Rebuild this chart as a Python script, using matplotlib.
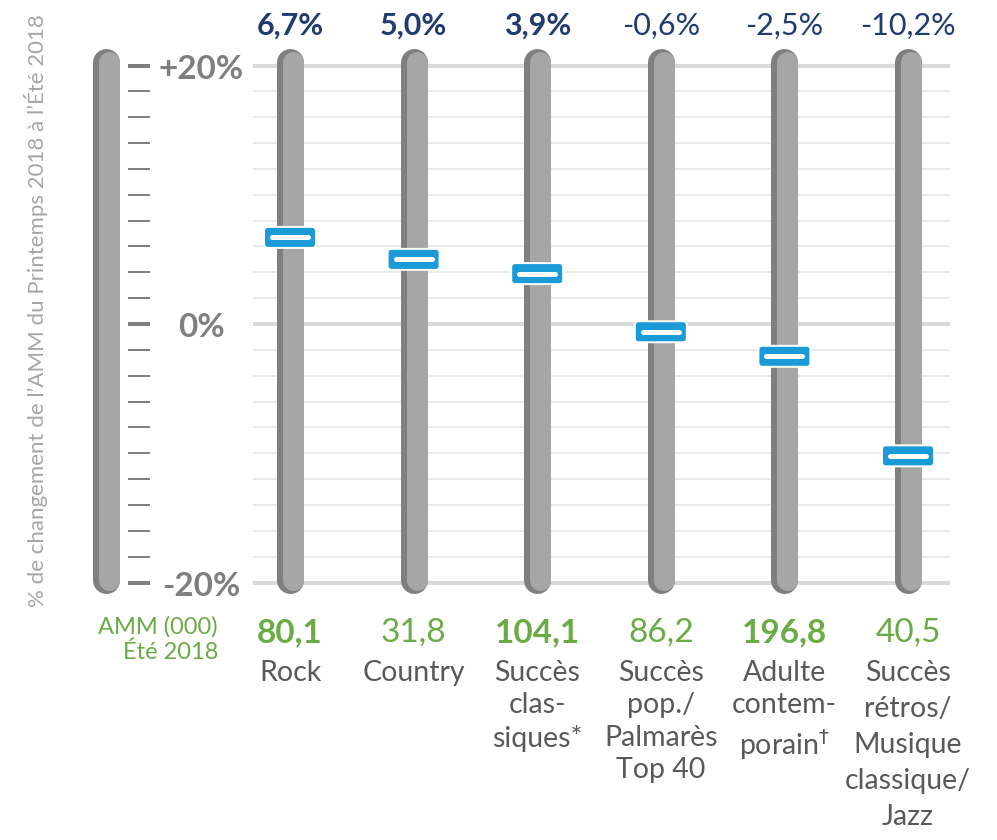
import matplotlib.pyplot as plt
import matplotlib.patches as mpatches
import numpy as np

# chart data
categories = ['Rock', 'Country', 'Succès\nclas-\nsiques*', 'Succès\npop./\nPalmarès\nTop 40',
              'Adulte\ncontem-\nporain$^{\\dagger}$', 'Succès\nrétros/\nMusique\nclassique/\nJazz']
change_pct = [6.7, 5.0, 3.9, -0.6, -2.5, -10.2]
change_labels = ['6,7%', '5,0%', '3,9%', '-0,6%', '-2,5%', '-10,2%']
change_weights = ['bold', 'bold', 'bold', 'normal', 'normal', 'normal']
amm_values = ['80,1', '31,8', '104,1', '86,2', '196,8', '40,5']
amm_weights = ['bold', 'normal', 'bold', 'normal', 'bold', 'normal']
y_ticks = np.arange(-20, 21, 2)
y_major = [-20, 0, 20]
y_major_labels = ['-20%', '0%', '+20%']

DARK = '#7f7f7f'
LIGHT = '#a6a6a6'
BLUE = '#1a9ad6'
NAVY = '#1f3b70'
GREEN = '#6aab45'
TEXT = '#595959'

plt.rcParams['font.family'] = ['Lato', 'DejaVu Sans']

# pixel layout of the reference: category 0 centred at x=290, 123.6 px apart,
# 0% at y=324 and 12.925 px per percent
X0, DX = 290, 123.6
Y0, DY = 324, 12.925
W, H = 997, 840


def px_x(p):
    return (p - X0) / DX


def px_y(p):
    return (Y0 - p) / DY


fig = plt.figure(figsize=(W / 100, H / 100), dpi=100)
ax = fig.add_axes([0, 0, 1, 1])
ax.set_xlim(px_x(0), px_x(W))
ax.set_ylim(px_y(H), px_y(0))
ax.axis('off')

pt = 0.72  # points per pixel

# horizontal gridlines
for t in y_ticks:
    major = t in y_major
    ax.plot([px_x(253), px_x(950)], [t, t], color='#d9d9d9' if major else '#e4e4e4',
            lw=(4 if major else 1.5) * pt, solid_capstyle='butt', zorder=1)


def thermo(xc):
    # grey column with a dark left shade and rounded ends
    top, bot = 20.3, -19.8
    ax.plot([xc, xc], [top, bot], color=DARK, lw=27 * pt, solid_capstyle='round', zorder=2)
    ax.plot([xc + 3 / DX, xc + 3 / DX], [top, bot], color=LIGHT, lw=21 * pt,
            solid_capstyle='round', zorder=3)


# left scale column
thermo(px_x(106))
for t in y_ticks:
    major = t in y_major
    ax.plot([px_x(128), px_x(150)], [t, t], color=DARK, lw=(4 if major else 2) * pt,
            solid_capstyle='butt', zorder=3)
for t, lab in zip(y_major, y_major_labels):
    ax.text(px_x(201), t - 0.3, lab, ha='center', va='center', fontsize=24, fontweight='bold',
            color=DARK)

ax.text(px_x(36), px_y(311), "% de changement de l’AMM du Printemps 2018 à l’Été 2018",
        rotation=90, ha='center', va='center', fontsize=16, color='#a6a6a6')
ax.text(px_x(218), px_y(616), 'AMM (000)\nÉté 2018', ha='right', va='top', fontsize=17,
        color=GREEN, linespacing=1.2)

mw, mh = 52 / DX, 21 / DY
for i, v in enumerate(change_pct):
    thermo(i)
    box = mpatches.FancyBboxPatch((i - mw / 2, v - mh / 2), mw, mh,
                                  boxstyle='round,pad=0,rounding_size=%f' % (4 / DX),
                                  mutation_aspect=DX / DY, facecolor=BLUE, edgecolor='white',
                                  lw=2 * pt, zorder=5)
    ax.add_patch(box)
    ax.plot([i - 18 / DX, i + 18 / DX], [v, v], color='white', lw=5 * pt,
            solid_capstyle='round', zorder=6)
    ax.text(i, px_y(26), change_labels[i], ha='center', va='center', fontsize=22,
            fontweight=change_weights[i], color=NAVY)
    ax.text(i, px_y(633), amm_values[i], ha='center', va='center', fontsize=24,
            fontweight=amm_weights[i], color=GREEN)
    # the last label is set looser in the reference
    spacing = 1.48 if i == len(categories) - 1 else 1.3
    ax.text(i, px_y(660), categories[i], ha='center', va='top', fontsize=20.5,
            color=TEXT, linespacing=spacing)

fig.savefig('out.png', dpi=100)
